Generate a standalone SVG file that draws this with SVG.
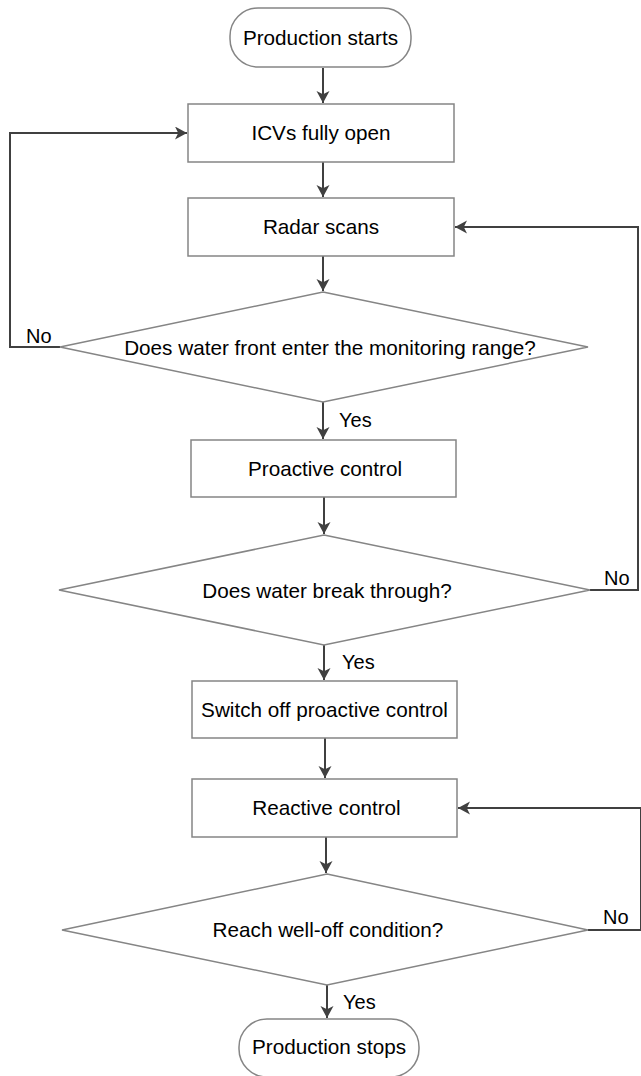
<svg xmlns="http://www.w3.org/2000/svg" width="641" height="1076" viewBox="0 0 641 1076">
<defs>
<marker id="arr" markerUnits="userSpaceOnUse" markerWidth="14" markerHeight="14" refX="12" refY="6.5" orient="auto">
<path d="M0,0 L12,6.5 L0,13 L3.2,6.5 Z" fill="#404040"/>
</marker>
<style>
.n{fill:#fff;stroke:#858585;stroke-width:1.5}
.t{font-family:"Liberation Sans",Arial,Helvetica,sans-serif;font-size:20.7px;fill:#000;text-anchor:middle}
.l{font-family:"Liberation Sans",Arial,Helvetica,sans-serif;font-size:20px;fill:#000}
.c{fill:none;stroke:#404040;stroke-width:2}
</style>
</defs>
<rect width="641" height="1076" fill="#fff"/>
<g id="connectors">
<path class="c" d="M323,68 L323,103" marker-end="url(#arr)"/>
<path class="c" d="M323,162 L323,197" marker-end="url(#arr)"/>
<path class="c" d="M323,256 L323,291" marker-end="url(#arr)"/>
<path class="c" d="M60,347 L10,347 L10,133 L187,133" marker-end="url(#arr)"/>
<path class="c" d="M323,402 L323,439" marker-end="url(#arr)"/>
<path class="c" d="M324,497 L324,534" marker-end="url(#arr)"/>
<path class="c" d="M590,590 L638,590 L638,227 L455,227" marker-end="url(#arr)"/>
<path class="c" d="M324,645 L324,680" marker-end="url(#arr)"/>
<path class="c" d="M325,738 L325,778" marker-end="url(#arr)"/>
<path class="c" d="M326,837 L326,873" marker-end="url(#arr)"/>
<path class="c" d="M588,930 L641,930 L641,808 L458,808" marker-end="url(#arr)"/>
<path class="c" d="M327,985 L327,1018" marker-end="url(#arr)"/>
<text class="l" x="26" y="343">No</text>
<text class="l" x="339" y="427">Yes</text>
<text class="l" x="604" y="585">No</text>
<text class="l" x="342" y="669">Yes</text>
<text class="l" x="603" y="924">No</text>
<text class="l" x="343" y="1009">Yes</text>
</g>
<g id="start">
<rect class="n" x="230" y="8" width="181" height="59" rx="28" ry="28"/>
<text class="t" x="320.5" y="44.5">Production starts</text>
</g>
<g id="icvs">
<rect class="n" x="188" y="104" width="266" height="58"/>
<text class="t" x="321" y="140">ICVs fully open</text>
</g>
<g id="radar">
<rect class="n" x="188" y="198" width="266" height="58"/>
<text class="t" x="321" y="234">Radar scans</text>
</g>
<g id="d1">
<polygon class="n" points="323,292 588,347 323,402 60,347"/>
<text class="t" x="330" y="355">Does water front enter the monitoring range?</text>
</g>
<g id="proactive">
<rect class="n" x="191" y="440" width="265" height="57"/>
<text class="t" x="325" y="476">Proactive control</text>
</g>
<g id="d2">
<polygon class="n" points="324,535 590,590 324,645 59,590"/>
<text class="t" x="327" y="598">Does water break through?</text>
</g>
<g id="switchoff">
<rect class="n" x="192" y="681" width="265" height="57"/>
<text class="t" x="324.5" y="717">Switch off proactive control</text>
</g>
<g id="reactive">
<rect class="n" x="192" y="779" width="265" height="58"/>
<text class="t" x="326.5" y="815">Reactive control</text>
</g>
<g id="d3">
<polygon class="n" points="327,874 588,930 327,985 62,930"/>
<text class="t" x="328" y="937">Reach well-off condition?</text>
</g>
<g id="stop">
<rect class="n" x="239" y="1019" width="180" height="58" rx="28" ry="28"/>
<text class="t" x="329" y="1054">Production stops</text>
</g>
</svg>
